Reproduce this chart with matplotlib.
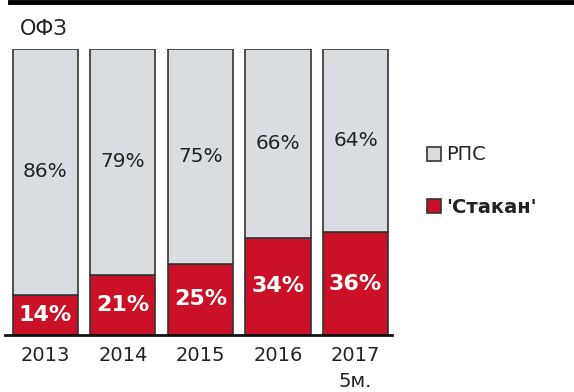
import matplotlib.pyplot as plt
from matplotlib.lines import Line2D

# Share of OFZ trading: order book vs negotiated deals (RPS)
years = ['2013', '2014', '2015', '2016', '2017\n5м.']
stakan = [14, 21, 25, 34, 36]
rps = [86, 79, 75, 66, 64]

red = '#cb1128'
grey = '#d9dde1'
edge = '#333333'
txt = '#222222'

plt.rcParams['font.family'] = ['DejaVu Sans']

fig = plt.figure(figsize=(5.74, 3.92), dpi=100)
ax = fig.add_axes([5 / 574, 1 - 335 / 392, 387 / 574, 286 / 392])

x = range(len(years))
b_red = ax.bar(x, stakan, width=0.84, color=red, edgecolor=edge, linewidth=1.2)
b_grey = ax.bar(x, rps, bottom=stakan, width=0.84, color=grey, edgecolor=edge, linewidth=1.2)

for i in x:
    ax.text(i, stakan[i] / 2, f'{stakan[i]}%', ha='center', va='center',
            color='white', fontsize=16, fontweight='bold')
    ax.text(i, stakan[i] + rps[i] / 2, f'{rps[i]}%', ha='center', va='center',
            color=txt, fontsize=14.5)

ax.set_xlim(-0.52, 4.47)
ax.set_ylim(0, 100)
ax.set_xticks(list(x))
ax.set_xticklabels(years, fontsize=14, color=txt, linespacing=1.45, va='top')
ax.tick_params(axis='x', length=0, pad=8)
ax.set_yticks([])
for s in ['top', 'left', 'right']:
    ax.spines[s].set_visible(False)
ax.spines['bottom'].set_linewidth(2)
ax.spines['bottom'].set_color('#111111')

# heavy rule across the top
fig.add_artist(Line2D([10 / 574, 1], [1 - 2 / 392, 1 - 2 / 392],
                      color='black', linewidth=3.5, transform=fig.transFigure))
fig.text(20 / 574, 1 - 29 / 392, 'ОФЗ', fontsize=15, color=txt, va='center', ha='left')

leg = fig.legend([b_grey, b_red], ['РПС', "'Стакан'"], loc='upper left',
                 bbox_to_anchor=(409 / 574, 1 - 128 / 392), frameon=False,
                 fontsize=14, handlelength=0.75, handleheight=0.75,
                 handletextpad=0.25, labelspacing=1.7)
leg.get_texts()[1].set_fontweight('bold')
for t in leg.get_texts():
    t.set_color(txt)

fig.savefig('out.png', dpi=100)
